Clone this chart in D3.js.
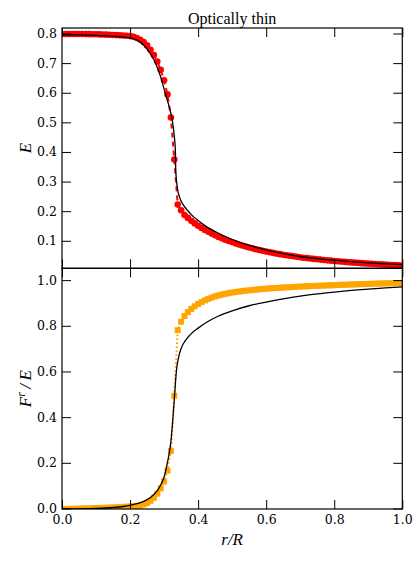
<!DOCTYPE html>
<head>
  <meta charset="utf-8">
  <script src="https://d3js.org/d3.v7.min.js"></script>
  <style>
    body { margin: 0; background: #fff; }
    text { font-family: "DejaVu Serif", serif; fill: #000; }
    .tick text { font-size: 12.5px; }
    .axis path { display: none; }
    .axis line { stroke: #000; }
  </style>
</head>
<body>
  <script>
    // radial grid of the numerical solution (r/R)
    var rGrid = [
      0.00, 0.01, 0.02, 0.03, 0.04, 0.05, 0.06, 0.07, 0.08, 0.09,
      0.10, 0.11, 0.12, 0.13, 0.14, 0.15, 0.16, 0.17, 0.18, 0.19,
      0.20, 0.21, 0.22, 0.23, 0.24, 0.25, 0.26, 0.27, 0.28, 0.29,
      0.30, 0.31, 0.32, 0.33, 0.34, 0.35, 0.36, 0.37, 0.38, 0.39,
      0.40, 0.41, 0.42, 0.43, 0.44, 0.45, 0.46, 0.47, 0.48, 0.49,
      0.50, 0.51, 0.52, 0.53, 0.54, 0.55, 0.56, 0.57, 0.58, 0.59,
      0.60, 0.61, 0.62, 0.63, 0.64, 0.65, 0.66, 0.67, 0.68, 0.69,
      0.70, 0.71, 0.72, 0.73, 0.74, 0.75, 0.76, 0.77, 0.78, 0.79,
      0.80, 0.81, 0.82, 0.83, 0.84, 0.85, 0.86, 0.87, 0.88, 0.89,
      0.90, 0.91, 0.92, 0.93, 0.94, 0.95, 0.96, 0.97, 0.98, 0.99,
      1.00];

    // numerical E (red dots)
    var energyNum = [
      0.8000, 0.8000, 0.8000, 0.8000, 0.8000, 0.8000, 0.7998, 0.7997, 0.7995, 0.7993,
      0.7990, 0.7987, 0.7983, 0.7979, 0.7974, 0.7969, 0.7963, 0.7956, 0.7949, 0.7940,
      0.7930, 0.7905, 0.7865, 0.7805, 0.7725, 0.7615, 0.7465, 0.7290, 0.7070, 0.6790,
      0.6440, 0.5960, 0.5180, 0.3760, 0.2240, 0.2050, 0.1890, 0.1790, 0.1690, 0.1604,
      0.1525, 0.1452, 0.1383, 0.1320, 0.1260, 0.1205, 0.1148, 0.1100, 0.1055, 0.1012,
      0.0972, 0.0930, 0.0891, 0.0858, 0.0823, 0.0790, 0.0762, 0.0733, 0.0705, 0.0681,
      0.0656, 0.0632, 0.0609, 0.0587, 0.0566, 0.0547, 0.0528, 0.0510, 0.0493, 0.0477,
      0.0461, 0.0446, 0.0432, 0.0418, 0.0405, 0.0393, 0.0381, 0.0368, 0.0357, 0.0346,
      0.0336, 0.0325, 0.0315, 0.0305, 0.0296, 0.0287, 0.0279, 0.0270, 0.0262, 0.0254,
      0.0247, 0.0239, 0.0233, 0.0225, 0.0220, 0.0213, 0.0207, 0.0201, 0.0196, 0.0190,
      0.0185];

    // numerical F^r/E (orange squares)
    var fluxNum = [
      0.0000, 0.0003, 0.0006, 0.0009, 0.0012, 0.0016, 0.0020, 0.0024, 0.0028, 0.0033,
      0.0038, 0.0043, 0.0049, 0.0055, 0.0061, 0.0068, 0.0075, 0.0083, 0.0091, 0.0100,
      0.0110, 0.0120, 0.0135, 0.0160, 0.0200, 0.0260, 0.0360, 0.0490, 0.0670, 0.0900,
      0.1200, 0.1680, 0.2540, 0.4960, 0.7830, 0.8200, 0.8450, 0.8620, 0.8760, 0.8880,
      0.8980, 0.9060, 0.9135, 0.9200, 0.9258, 0.9310, 0.9352, 0.9390, 0.9422, 0.9452,
      0.9480, 0.9502, 0.9522, 0.9541, 0.9559, 0.9576, 0.9592, 0.9607, 0.9621, 0.9634,
      0.9646, 0.9657, 0.9668, 0.9678, 0.9688, 0.9697, 0.9706, 0.9715, 0.9723, 0.9731,
      0.9739, 0.9746, 0.9753, 0.9760, 0.9767, 0.9773, 0.9779, 0.9785, 0.9791, 0.9797,
      0.9802, 0.9808, 0.9814, 0.9820, 0.9826, 0.9832, 0.9837, 0.9842, 0.9847, 0.9852,
      0.9857, 0.9862, 0.9867, 0.9872, 0.9876, 0.9880, 0.9884, 0.9888, 0.9892, 0.9896,
      0.9900];

    // exact solution (black lines)
    var rExactE = [0, 0.05, 0.10, 0.15, 0.18, 0.20, 0.22, 0.24, 0.25, 0.26,
      0.27, 0.28, 0.29, 0.30, 0.31, 0.32, 0.325, 0.33, 0.332, 0.3333,
      0.334, 0.335, 0.337, 0.34, 0.345, 0.35, 0.36, 0.37, 0.38, 0.40,
      0.42, 0.45, 0.50, 0.55, 0.60, 0.65, 0.70, 0.75, 0.80, 0.85,
      0.90, 0.95, 1.00];
    var energyExact = [0.7977, 0.7970, 0.7953, 0.7922, 0.7900, 0.7870, 0.7800, 0.7625, 0.7490, 0.7330,
      0.7130, 0.6870, 0.6550, 0.6140, 0.5740, 0.5320, 0.5020, 0.4550, 0.4300, 0.4000,
      0.3500, 0.3250, 0.2980, 0.2730, 0.2510, 0.2360, 0.2170, 0.2030, 0.1900, 0.1700,
      0.1530, 0.1330, 0.1060, 0.0865, 0.0710, 0.0585, 0.0487, 0.0417, 0.0362, 0.0313,
      0.0273, 0.0241, 0.0215];

    var rExactF = [0, 0.05, 0.10, 0.15, 0.18, 0.20, 0.22, 0.24, 0.26, 0.28,
      0.29, 0.30, 0.31, 0.32, 0.325, 0.33, 0.3333, 0.335, 0.337, 0.342,
      0.35, 0.36, 0.37, 0.38, 0.40, 0.43, 0.46, 0.50, 0.55, 0.60,
      0.65, 0.70, 0.75, 0.80, 0.85, 0.90, 0.95, 1.00];
    var fluxExact = [0, 0.0008, 0.0025, 0.0065, 0.011, 0.016, 0.023, 0.033, 0.050, 0.080,
      0.105, 0.140, 0.205, 0.295, 0.380, 0.480, 0.550, 0.585, 0.615, 0.660,
      0.703, 0.732, 0.752, 0.768, 0.792, 0.822, 0.845, 0.868, 0.890, 0.906,
      0.920, 0.932, 0.942, 0.950, 0.957, 0.963, 0.968, 0.973];

    var xTicks = [0, 0.2, 0.4, 0.6, 0.8, 1.0];
    var eTicks = [0.1, 0.2, 0.3, 0.4, 0.5, 0.6, 0.7, 0.8];
    var fTicks = [0, 0.2, 0.4, 0.6, 0.8, 1.0];

    var width = 415, height = 566;
    var left = 62, right = 402.3;
    var top1 = 28, mid = 268.3, bot = 509;

    var svg = d3.select("body").append("svg")
      .attr("width", width)
      .attr("height", height);

    var x = d3.scaleLinear().domain([0, 1]).range([left, right]);
    var yE = d3.scaleLinear().domain([0.0088, 0.8203]).range([mid, top1]);
    var yF = d3.scaleLinear().domain([0, 1.054]).range([bot, mid]);

    var fmt = d3.format(".1f");

    // clip paths for the two panels
    var defs = svg.append("defs");
    defs.append("clipPath").attr("id", "clipTop").append("rect")
      .attr("x", left).attr("y", top1).attr("width", right - left).attr("height", mid - top1);
    defs.append("clipPath").attr("id", "clipBot").append("rect")
      .attr("x", left).attr("y", mid).attr("width", right - left).attr("height", bot - mid);

    var numE = rGrid.map(function (r, i) { return { r: r, v: energyNum[i] }; });
    var numF = rGrid.map(function (r, i) { return { r: r, v: fluxNum[i] }; });
    var exE = rExactE.map(function (r, i) { return { r: r, v: energyExact[i] }; });
    var exF = rExactF.map(function (r, i) { return { r: r, v: fluxExact[i] }; });

    // ---- top panel: E
    var gTop = svg.append("g").attr("clip-path", "url(#clipTop)");
    gTop.append("path")
      .datum(numE)
      .attr("fill", "none")
      .attr("stroke", "#ff0000")
      .attr("stroke-width", 2)
      .attr("stroke-dasharray", "5,4")
      .attr("d", d3.line().x(d => x(d.r)).y(d => yE(d.v)));
    gTop.selectAll(".dot")
      .data(numE)
      .enter().append("circle")
      .attr("class", "dot")
      .attr("cx", d => x(d.r))
      .attr("cy", d => yE(d.v))
      .attr("r", 3.3)
      .attr("fill", "#ff0000");
    gTop.append("path")
      .datum(exE)
      .attr("fill", "none")
      .attr("stroke", "#000")
      .attr("stroke-width", 1.3)
      .attr("d", d3.line().curve(d3.curveMonotoneX).x(d => x(d.r)).y(d => yE(d.v)));

    // ---- bottom panel: F^r/E
    var gBot = svg.append("g").attr("clip-path", "url(#clipBot)");
    gBot.append("path")
      .datum(numF)
      .attr("fill", "none")
      .attr("stroke", "#ffa500")
      .attr("stroke-width", 2)
      .attr("stroke-dasharray", "1.6,2.4")
      .attr("d", d3.line().x(d => x(d.r)).y(d => yF(d.v)));
    gBot.selectAll(".sq")
      .data(numF)
      .enter().append("rect")
      .attr("class", "sq")
      .attr("x", d => x(d.r) - 3)
      .attr("y", d => yF(d.v) - 3)
      .attr("width", 6)
      .attr("height", 6)
      .attr("fill", "#ffa500");
    gBot.append("path")
      .datum(exF)
      .attr("fill", "none")
      .attr("stroke", "#000")
      .attr("stroke-width", 1.3)
      .attr("d", d3.line().curve(d3.curveMonotoneX).x(d => x(d.r)).y(d => yF(d.v)));

    // ---- axes (ticks point inward)
    var ts = -9;
    svg.append("g").attr("class", "axis")
      .attr("transform", "translate(0," + top1 + ")")
      .call(d3.axisTop(x).tickValues(xTicks).tickSize(ts).tickFormat(""));
    svg.append("g").attr("class", "axis")
      .attr("transform", "translate(0," + mid + ")")
      .call(d3.axisBottom(x).tickValues(xTicks).tickSize(ts).tickFormat(""));
    svg.append("g").attr("class", "axis")
      .attr("transform", "translate(0," + mid + ")")
      .call(d3.axisTop(x).tickValues(xTicks).tickSize(ts).tickFormat(""));
    svg.append("g").attr("class", "axis")
      .attr("transform", "translate(0," + bot + ")")
      .call(d3.axisBottom(x).tickValues(xTicks).tickSize(ts).tickPadding(6).tickFormat(fmt));

    svg.append("g").attr("class", "axis")
      .attr("transform", "translate(" + left + ",0)")
      .call(d3.axisLeft(yE).tickValues(eTicks).tickSize(ts).tickPadding(5).tickFormat(fmt).offset(0));
    svg.append("g").attr("class", "axis")
      .attr("transform", "translate(" + right + ",0)")
      .call(d3.axisRight(yE).tickValues(eTicks).tickSize(ts).tickFormat("").offset(0));
    svg.append("g").attr("class", "axis")
      .attr("transform", "translate(" + left + ",0)")
      .call(d3.axisLeft(yF).tickValues(fTicks).tickSize(ts).tickPadding(5).tickFormat(fmt).offset(0));
    svg.append("g").attr("class", "axis")
      .attr("transform", "translate(" + right + ",0)")
      .call(d3.axisRight(yF).tickValues(fTicks).tickSize(ts).tickFormat("").offset(0));

    // panel frames
    [[top1, mid], [mid, bot]].forEach(function (p) {
      svg.append("rect")
        .attr("x", left).attr("y", p[0])
        .attr("width", right - left).attr("height", p[1] - p[0])
        .attr("fill", "none").attr("stroke", "#000").attr("stroke-width", 1.2);
    });

    // title and axis labels
    svg.append("text")
      .attr("x", (left + right) / 2).attr("y", 23.5)
      .style("text-anchor", "middle")
      .style("font-family", "'Liberation Serif', serif")
      .style("font-size", "16px")
      .text("Optically thin");

    svg.append("text")
      .attr("transform", "translate(31," + ((top1 + mid) / 2) + ") rotate(-90)")
      .style("text-anchor", "middle")
      .style("font-family", "'Liberation Serif', serif")
      .style("font-style", "italic")
      .style("font-size", "17px")
      .text("E");

    var fl = svg.append("text")
      .attr("transform", "translate(31," + ((mid + bot) / 2) + ") rotate(-90)")
      .style("text-anchor", "middle")
      .style("font-family", "'Liberation Serif', serif")
      .style("font-style", "italic")
      .style("font-size", "17px");
    fl.append("tspan").text("F");
    fl.append("tspan").attr("dy", -6).style("font-size", "12px").text("r");
    fl.append("tspan").attr("dy", 6).text("\u2009/\u2009E");

    svg.append("text")
      .attr("x", (left + right) / 2).attr("y", 545)
      .style("text-anchor", "middle")
      .style("font-family", "'Liberation Serif', serif")
      .style("font-style", "italic")
      .style("font-size", "17px")
      .text("r/R");
  </script>
</body>
